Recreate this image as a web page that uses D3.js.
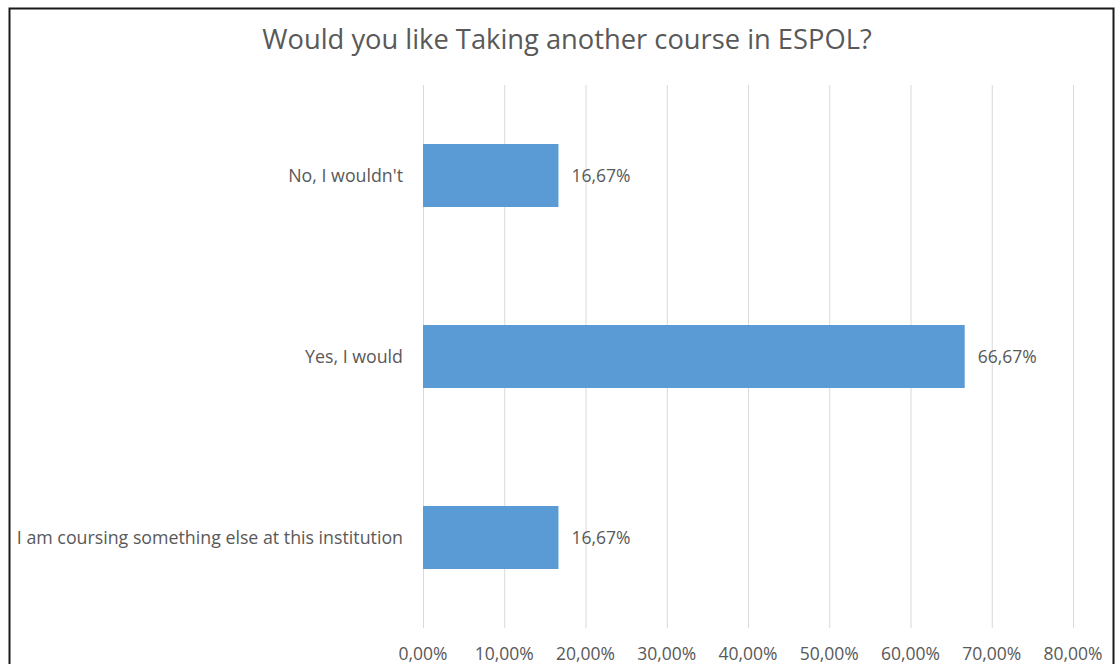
<!DOCTYPE html>
<html><head><meta charset="utf-8">
<script src="https://cdn.jsdelivr.net/npm/d3@7"></script>
<style>body{margin:0;background:#fff}svg{display:block}</style>
</head><body>
<svg id="c" width="1118" height="664"></svg>
<script>
const title = "Would you like Taking another course in ESPOL?";
const categories = ["No, I wouldn't", "Yes, I would", "I am coursing something else at this institution"];
const values = [16.67, 66.67, 16.67];
const tickValues = [0, 10, 20, 30, 40, 50, 60, 70, 80];
const tickLabels = ["0,00%", "10,00%", "20,00%", "30,00%", "40,00%", "50,00%", "60,00%", "70,00%", "80,00%"];

const svg = d3.select("#c");
const font = "'Open Sans', sans-serif";
const textColor = "#595959";

svg.append("rect").attr("x", 9.5).attr("y", 8.5).attr("width", 1104).attr("height", 700)
  .attr("fill", "#fff").attr("stroke", "#1a1a1a").attr("stroke-width", 2);

const x = d3.scaleLinear().domain([0, 80]).range([423, 1073]);
const y = d3.scaleBand().domain(categories).range([85, 628]).paddingInner(0.652).paddingOuter(0.326);

svg.append("g").selectAll("line").data(tickValues).join("line")
  .attr("x1", d => x(d) + 0.5).attr("x2", d => x(d) + 0.5)
  .attr("y1", 85).attr("y2", 628)
  .attr("stroke", "#d9d9d9").attr("stroke-width", 1);

svg.append("text").attr("x", 567).attr("y", 49).attr("text-anchor", "middle")
  .attr("font-family", font).attr("font-size", 27.3).attr("fill", textColor).text(title);

svg.append("g").selectAll("rect").data(values).join("rect")
  .attr("x", x(0)).attr("y", (d, i) => y(categories[i]))
  .attr("width", d => x(d) - x(0)).attr("height", y.bandwidth())
  .attr("fill", "#5b9bd5");

svg.append("g").selectAll("text").data(values).join("text")
  .attr("x", d => x(d) + 13).attr("y", (d, i) => y(categories[i]) + y.bandwidth() / 2)
  .attr("dy", "0.38em").attr("font-family", font).attr("font-size", 17.5).attr("fill", textColor)
  .text(d => d.toFixed(2).replace(".", ",") + "%");

svg.append("g").selectAll("text").data(categories).join("text")
  .attr("x", 403).attr("y", d => y(d) + y.bandwidth() / 2)
  .attr("dy", "0.38em").attr("text-anchor", "end")
  .attr("font-family", font).attr("font-size", 17.8).attr("fill", textColor)
  .text(d => d);

svg.append("g").selectAll("text").data(tickValues).join("text")
  .attr("x", d => x(d)).attr("y", 660).attr("text-anchor", "middle")
  .attr("font-family", font).attr("font-size", 17.5).attr("fill", textColor)
  .text((d, i) => tickLabels[i]);
</script>
</body></html>
